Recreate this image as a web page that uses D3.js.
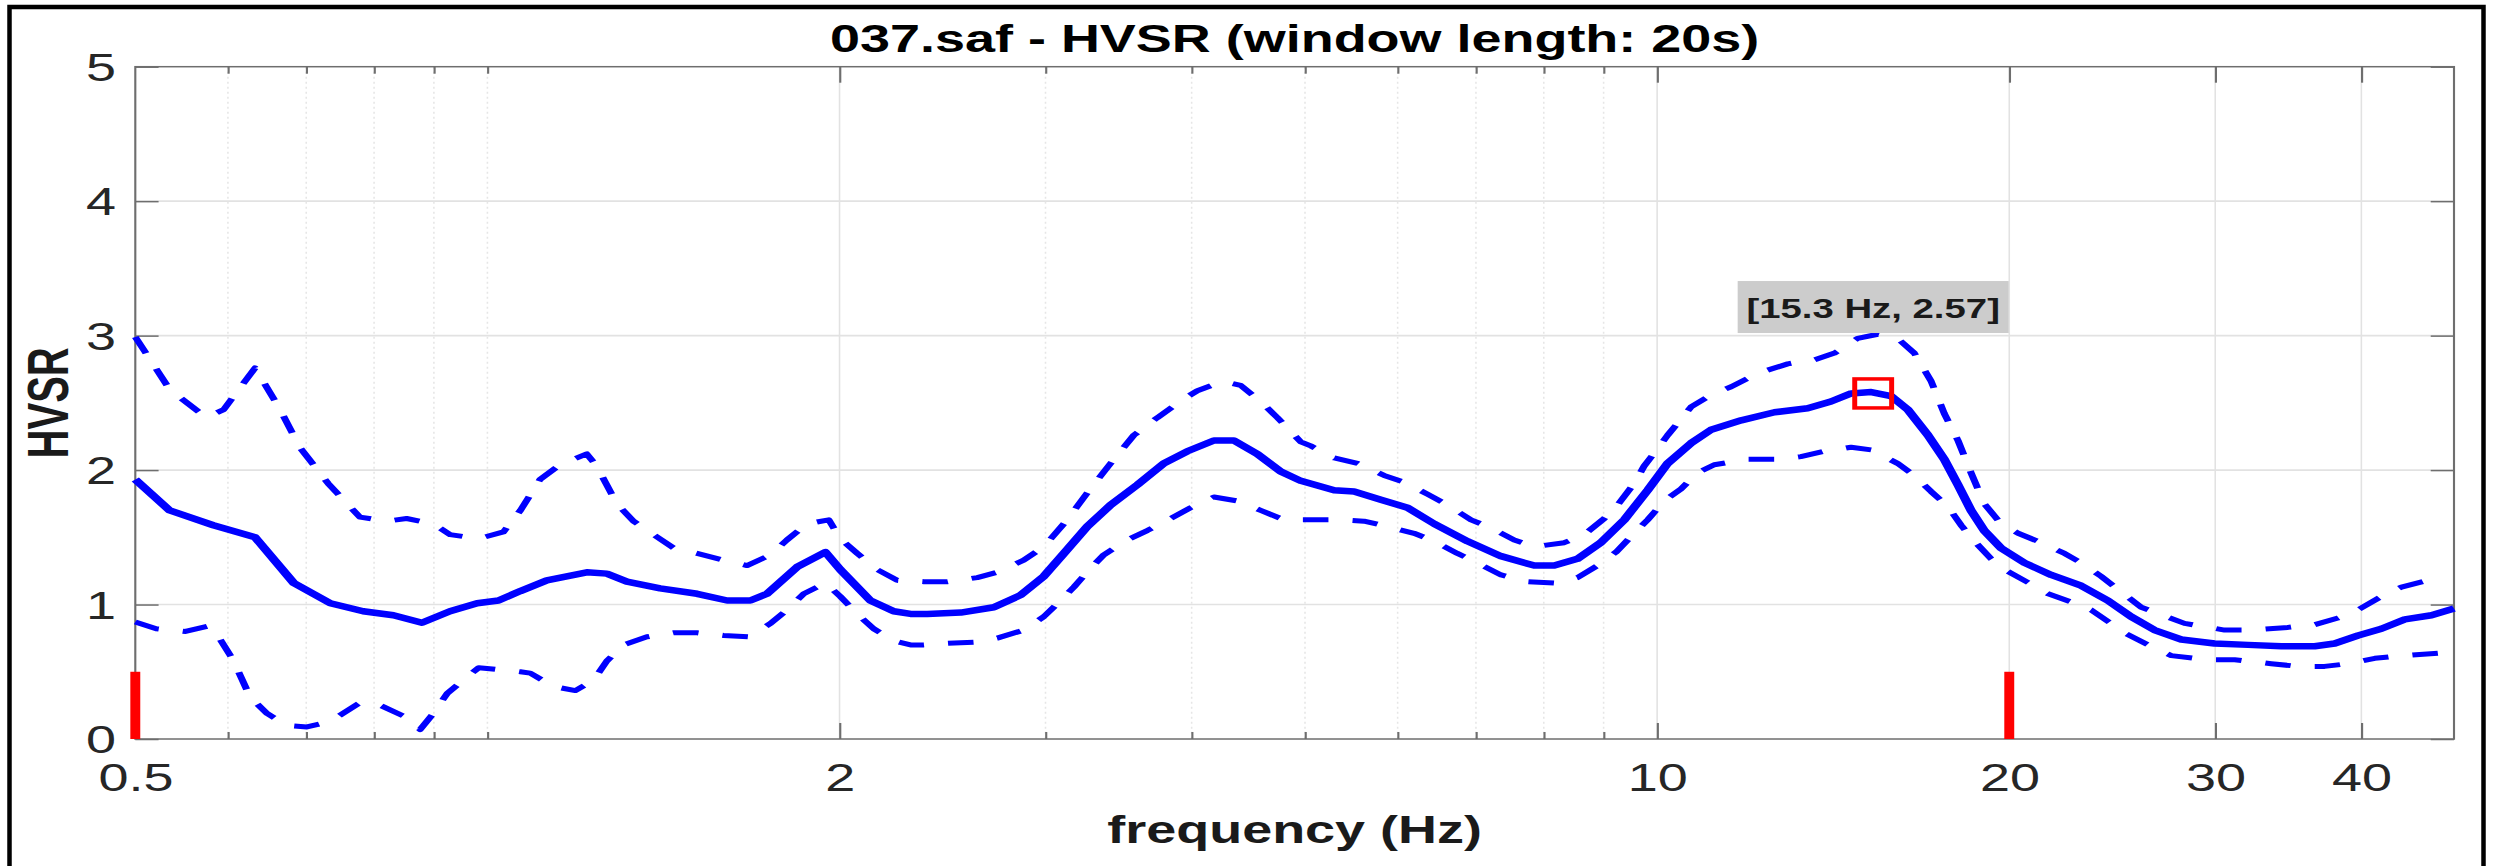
<!DOCTYPE html>
<html><head><meta charset="utf-8">
<script src="https://cdn.jsdelivr.net/npm/d3@7"></script>
<style>html,body{margin:0;padding:0;background:#fff;} svg{display:block;}</style>
</head><body>
<svg id="chart" width="2497" height="866"></svg>
<script>
// ---------------- DATA ----------------
const titleText = "037.saf - HVSR (window length: 20s)";
const xLabelText = "frequency (Hz)";
const yLabelText = "HVSR";

const meanFreq = [0.50,0.535,0.583,0.633,0.683,0.734,0.783,0.831,0.879,0.929,
  0.98,1.022,1.067,1.124,1.216,1.265,1.316,1.405,1.511,1.603,
  1.678,1.734,1.84,1.945,2.003,2.125,2.225,2.30,2.377,2.539,
  2.71,2.856,2.99,3.11,3.257,3.41,3.594,3.787,3.966,4.179,
  4.347,4.552,4.766,4.958,5.295,5.507,5.805,6.119,6.449,6.886,
  7.354,7.852,8.166,8.549,8.95,9.373,9.815,10.21,10.69,11.12,
  11.8,12.6,13.45,14.08,14.65,15.24,15.85,16.38,17.04,17.6,
  18.08,18.55,19.04,19.68,20.61,21.72,23.04,24.28,25.42,26.62,
  28.06,29.96,32.0,34.17,36.49,37.95,39.74,41.61,43.57,45.92,48.0];
const meanHV = [1.93,1.70,1.59,1.50,1.16,1.01,0.95,0.92,0.865,0.95,
  1.01,1.03,1.10,1.18,1.24,1.23,1.17,1.12,1.08,1.03,
  1.03,1.08,1.28,1.39,1.26,1.03,0.95,0.93,0.93,0.94,
  0.98,1.07,1.21,1.38,1.58,1.74,1.89,2.05,2.14,2.22,
  2.22,2.12,1.99,1.92,1.85,1.84,1.78,1.72,1.60,1.47,
  1.36,1.29,1.29,1.34,1.46,1.63,1.85,2.05,2.20,2.30,
  2.37,2.43,2.46,2.51,2.57,2.58,2.55,2.45,2.26,2.08,
  1.89,1.70,1.55,1.42,1.31,1.22,1.14,1.03,0.91,0.81,
  0.74,0.71,0.70,0.69,0.69,0.71,0.77,0.82,0.89,0.92,0.97];

const upperFreq = [0.500,0.535,0.575,0.595,0.633,0.665,0.691,0.731,0.778,0.820,
  0.853,0.899,0.929,0.983,1.032,1.067,1.109,1.154,1.216,1.240,
  1.290,1.333,1.387,1.443,1.511,1.592,1.667,1.746,1.803,1.876,
  1.958,2.003,2.071,2.154,2.240,2.361,2.473,2.623,2.728,2.874,
  2.990,3.131,3.257,3.410,3.570,3.739,3.939,4.045,4.249,4.405,
  4.582,4.735,4.958,5.057,5.295,5.544,5.842,6.078,6.365,6.620,
  6.932,7.210,7.548,7.852,8.328,8.663,9.011,9.251,9.557,9.748,
  10.01,10.21,10.69,11.12,11.57,12.19,12.93,13.63,14.18,14.84,
  15.44,16.05,16.59,17.15,17.60,18.08,18.55,19.04,19.68,20.35,
  21.30,22.30,23.04,23.96,25.93,28.24,30.56,32.00,34.62,36.49,
  38.20,39.74,41.61,43.28,45.61,46.82];
const upperHV = [2.99,2.60,2.39,2.45,2.76,2.45,2.17,1.90,1.65,1.62,
  1.64,1.60,1.52,1.49,1.54,1.70,1.93,2.04,2.12,2.03,
  1.75,1.62,1.52,1.42,1.38,1.33,1.29,1.37,1.48,1.60,
  1.63,1.49,1.38,1.26,1.18,1.17,1.17,1.20,1.24,1.33,
  1.43,1.63,1.83,2.05,2.26,2.39,2.53,2.59,2.66,2.63,
  2.51,2.39,2.21,2.18,2.09,2.05,1.96,1.91,1.82,1.74,
  1.63,1.57,1.48,1.43,1.46,1.52,1.64,1.74,1.90,2.03,
  2.16,2.26,2.47,2.56,2.62,2.72,2.79,2.82,2.87,2.98,
  3.01,2.98,2.87,2.66,2.42,2.22,1.98,1.75,1.60,1.53,
  1.46,1.38,1.31,1.21,0.98,0.86,0.81,0.81,0.83,0.85,
  0.90,0.96,1.06,1.13,1.18,1.21];

const lowerFreq = [0.500,0.521,0.552,0.577,0.591,0.606,0.627,0.648,0.674,0.701,
  0.734,0.778,0.810,0.848,0.876,0.899,0.924,0.954,0.983,1.039,
  1.067,1.088,1.139,1.189,1.233,1.265,1.307,1.369,1.443,1.511,
  1.592,1.673,1.746,1.803,1.864,1.945,2.003,2.071,2.139,2.225,
  2.300,2.361,2.456,2.606,2.728,2.874,2.990,3.090,3.172,3.278,
  3.365,3.524,3.665,3.838,3.991,4.179,4.378,4.582,4.797,5.057,
  5.331,5.616,5.881,6.197,6.449,6.749,7.020,7.354,7.749,8.166,
  8.549,8.893,9.224,9.557,9.815,10.14,10.48,10.83,11.19,11.95,
  12.60,13.27,13.90,14.65,15.24,16.05,16.59,17.15,17.72,18.19,
  18.68,19.30,19.81,20.89,21.59,22.75,23.50,25.09,26.28,27.51,
  29.58,31.17,33.50,35.31,37.20,38.96,41.07,43.28,46.82];
const lowerHV = [0.87,0.82,0.80,0.84,0.74,0.59,0.31,0.19,0.10,0.09,
  0.13,0.27,0.25,0.17,0.07,0.19,0.34,0.44,0.53,0.51,
  0.50,0.49,0.39,0.36,0.44,0.58,0.70,0.76,0.79,0.79,
  0.77,0.76,0.86,0.96,1.08,1.16,1.06,0.93,0.82,0.73,
  0.70,0.70,0.71,0.72,0.75,0.81,0.91,1.03,1.13,1.27,
  1.37,1.48,1.55,1.64,1.72,1.80,1.77,1.70,1.63,1.63,
  1.63,1.62,1.58,1.53,1.47,1.38,1.31,1.22,1.17,1.16,
  1.20,1.29,1.39,1.53,1.63,1.77,1.86,1.98,2.04,2.08,
  2.08,2.10,2.14,2.17,2.15,2.05,1.96,1.84,1.73,1.59,
  1.47,1.34,1.26,1.15,1.08,1.01,0.96,0.79,0.70,0.62,
  0.59,0.59,0.56,0.54,0.54,0.56,0.60,0.62,0.64];

const xTickValues = [0.5, 2, 10, 20, 30, 40];
const xTickLabels = ["0.5", "2", "10", "20", "30", "40"];
const xMinorTicks = [0.6, 0.7, 0.8, 0.9, 1, 3, 4, 5, 6, 7, 8, 9];
const yTickValues = [0, 1, 2, 3, 4, 5];
const yGridValues = [1, 2, 3, 4];
const limitFreqs = [0.5, 20];
const limitHeight = [0.5, 0.5];
const peakFreq = 15.3;
const peakHV = 2.57;
const peakLabel = "[15.3 Hz, 2.57]";

// ---------------- LAYOUT ----------------
const W = 2497, H = 866, K = 1.42;       // K: horizontal stretch of the picture
const L = 135.3, R = 2454, T = 66.7, B = 739;
const FONT = '"Liberation Sans", Arial, Helvetica, sans-serif';
const AXC = '#6e6e6e', TXT = '#262626';

const svg = d3.select('#chart');
svg.append('rect').attr('width', W).attr('height', H).attr('fill', '#fff');

const root = svg.append('g').attr('transform', `scale(${K},1)`);
const x = d3.scaleLog().domain([0.5, 48]).range([L / K, R / K]);
const y = d3.scaleLinear().domain([0, 5]).range([B, T]);
const x0 = x.range()[0], x1 = x.range()[1];

// grid
const grid = root.append('g');
grid.selectAll('line.gy').data(yGridValues).join('line').attr('class', 'gy')
  .attr('x1', x0).attr('x2', x1).attr('y1', d => y(d)).attr('y2', d => y(d))
  .attr('stroke', '#e2e2e2').attr('stroke-width', 1.6);
grid.selectAll('line.gx').data(xTickValues.slice(1)).join('line').attr('class', 'gx')
  .attr('x1', d => x(d)).attr('x2', d => x(d)).attr('y1', T).attr('y2', B)
  .attr('stroke', '#e2e2e2').attr('stroke-width', 1.1);
grid.selectAll('line.gm').data(xMinorTicks).join('line').attr('class', 'gm')
  .attr('x1', d => x(d)).attr('x2', d => x(d)).attr('y1', T).attr('y2', B)
  .attr('stroke', '#e6e6e6').attr('stroke-width', 1.1).attr('stroke-dasharray', '2,3');

// axes
function styleAxis(g) {
  g.select('.domain').remove();
  g.selectAll('.tick line').attr('stroke', AXC).attr('stroke-width', 1.5);
  g.selectAll('.tick text').attr('fill', TXT).attr('font-family', FONT).attr('font-size', 38);
}
root.append('g').attr('transform', `translate(0,${B})`)
  .call(d3.axisBottom(x).tickValues(xTickValues).tickFormat((d, i) => xTickLabels[i])
    .tickSizeInner(-16).tickSizeOuter(0).tickPadding(25))
  .call(styleAxis);
root.append('g').attr('transform', `translate(0,${B})`)
  .call(d3.axisBottom(x).tickValues(xMinorTicks).tickFormat('').tickSizeInner(-7).tickSizeOuter(0))
  .call(styleAxis);
root.append('g').attr('transform', `translate(0,${T})`)
  .call(d3.axisTop(x).tickValues(xTickValues.slice(1)).tickFormat('').tickSizeInner(-16).tickSizeOuter(0))
  .call(styleAxis);
root.append('g').attr('transform', `translate(0,${T})`)
  .call(d3.axisTop(x).tickValues(xMinorTicks).tickFormat('').tickSizeInner(-7).tickSizeOuter(0))
  .call(styleAxis);
root.append('g').attr('transform', `translate(${x0},0)`)
  .call(d3.axisLeft(y).tickValues(yTickValues).tickFormat(d3.format('d'))
    .tickSizeInner(-16.4).tickSizeOuter(0).tickPadding(13.6))
  .call(styleAxis)
  .call(g => g.selectAll('.tick text').attr('dy', '0.36em'));
root.append('g').attr('transform', `translate(${x1},0)`)
  .call(d3.axisRight(y).tickValues(yTickValues).tickFormat('').tickSizeInner(-16.4).tickSizeOuter(0))
  .call(styleAxis);

// axes box
root.append('rect').attr('x', x0).attr('y', T).attr('width', x1 - x0).attr('height', B - T)
  .attr('fill', 'none').attr('stroke', AXC).attr('stroke-width', 1.5);

// curves
const line = d3.line().x(d => x(d[0])).y(d => y(d[1]));
const series = [
  { f: upperFreq, v: upperHV, dash: '18,17', w: 5 },
  { f: lowerFreq, v: lowerHV, dash: '18,17', w: 5 },
  { f: meanFreq, v: meanHV, dash: null, w: 6.5 }
];
series.forEach(s => {
  root.append('path').datum(d3.zip(s.f, s.v)).attr('d', line)
    .attr('fill', 'none').attr('stroke', '#0000ff').attr('stroke-width', s.w)
    .attr('stroke-linejoin', 'round')
    .attr('stroke-dasharray', s.dash);
});

// frequency limit bars
root.selectAll('line.lim').data(d3.zip(limitFreqs, limitHeight)).join('line').attr('class', 'lim')
  .attr('x1', d => x(d[0])).attr('x2', d => x(d[0])).attr('y1', y(0)).attr('y2', d => y(d[1]))
  .attr('stroke', '#ff0000').attr('stroke-width', 7);

// peak marker
const px = x(peakFreq), py = y(peakHV);
root.append('rect').attr('x', px - 13).attr('y', py - 14.5).attr('width', 26).attr('height', 29)
  .attr('fill', 'none').attr('stroke', '#ff0000').attr('stroke-width', 3.5);

// annotation
const bw = 271 / K;
root.append('rect').attr('x', px - bw / 2).attr('y', py - 112.4).attr('width', bw).attr('height', 52)
  .attr('fill', '#cccccc');
root.append('text').attr('x', px).attr('y', py - 75.5).attr('text-anchor', 'middle')
  .attr('font-family', FONT).attr('font-weight', 'bold').attr('font-size', 27).attr('fill', '#1a1a1a')
  .text(peakLabel);

// title and labels
const cx = (x0 + x1) / 2;
root.append('text').attr('x', cx).attr('y', 52).attr('text-anchor', 'middle')
  .attr('font-family', FONT).attr('font-weight', 'bold').attr('font-size', 38).attr('fill', '#000')
  .text(titleText);
root.append('text').attr('x', cx).attr('y', 843).attr('text-anchor', 'middle')
  .attr('font-family', FONT).attr('font-weight', 'bold').attr('font-size', 38).attr('fill', '#1a1a1a')
  .text(xLabelText);
root.append('text').attr('transform', `translate(${68 / K},${(T + B) / 2}) rotate(-90)`)
  .attr('text-anchor', 'middle')
  .attr('font-family', FONT).attr('font-weight', 'bold').attr('font-size', 40).attr('fill', '#1a1a1a')
  .text(yLabelText);

// outer black frame (real pixel coordinates)
svg.append('rect').attr('x', 9.5).attr('y', 7).attr('width', 2474).attr('height', 1000)
  .attr('fill', 'none').attr('stroke', '#000').attr('stroke-width', 4.5);
</script>
</body></html>
